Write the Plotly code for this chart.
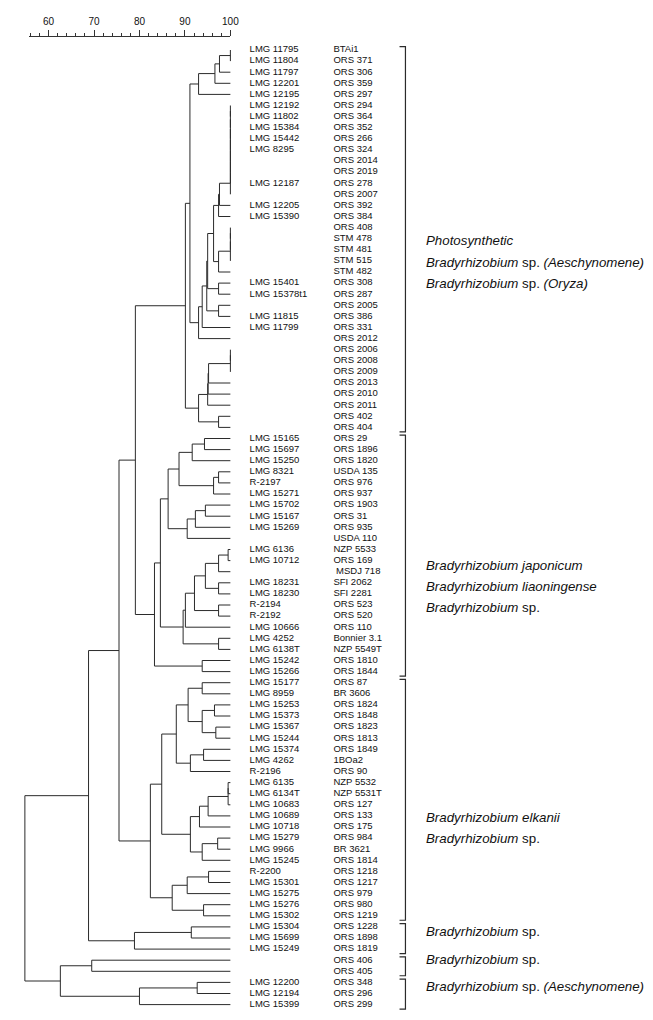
import plotly.graph_objects as go

# ---------------- data ----------------
lmg_ids = [
    "LMG 11795", "LMG 11804", "LMG 11797", "LMG 12201", "LMG 12195", "LMG 12192", "LMG 11802",
    "LMG 15384", "LMG 15442", "LMG 8295", "", "", "LMG 12187", "", "LMG 12205", "LMG 15390",
    "", "", "", "", "", "LMG 15401", "LMG 15378t1", "", "LMG 11815", "LMG 11799",
    "", "", "", "", "", "", "", "", "",
    "LMG 15165", "LMG 15697", "LMG 15250", "LMG 8321", "R-2197", "LMG 15271", "LMG 15702",
    "LMG 15167", "LMG 15269", "", "LMG 6136", "LMG 10712", "", "LMG 18231", "LMG 18230",
    "R-2194", "R-2192", "LMG 10666", "LMG 4252", "LMG 6138T", "LMG 15242", "LMG 15266",
    "LMG 15177", "LMG 8959", "LMG 15253", "LMG 15373", "LMG 15367", "LMG 15244", "LMG 15374",
    "LMG 4262", "R-2196", "LMG 6135", "LMG 6134T", "LMG 10683", "LMG 10689", "LMG 10718",
    "LMG 15279", "LMG 9966", "LMG 15245", "R-2200", "LMG 15301", "LMG 15275", "LMG 15276",
    "LMG 15302", "LMG 15304", "LMG 15699", "LMG 15249", "", "", "LMG 12200", "LMG 12194",
    "LMG 15399",
]
strains = [
    "BTAi1", "ORS 371", "ORS 306", "ORS 359", "ORS 297", "ORS 294", "ORS 364", "ORS 352",
    "ORS 266", "ORS 324", "ORS 2014", "ORS 2019", "ORS 278", "ORS 2007", "ORS 392", "ORS 384",
    "ORS 408", "STM 478", "STM 481", "STM 515", "STM 482", "ORS 308", "ORS 287", "ORS 2005",
    "ORS 386", "ORS 331", "ORS 2012", "ORS 2006", "ORS 2008", "ORS 2009", "ORS 2013",
    "ORS 2010", "ORS 2011", "ORS 402", "ORS 404",
    "ORS 29", "ORS 1896", "ORS 1820", "USDA 135", "ORS 976", "ORS 937", "ORS 1903", "ORS 31",
    "ORS 935", "USDA 110", "NZP 5533", "ORS 169", "\u00a0MSDJ 718", "SFI 2062", "SFI 2281",
    "ORS 523", "ORS 520", "ORS 110", "Bonnier 3.1", "NZP 5549T", "ORS 1810", "ORS 1844",
    "ORS 87", "BR 3606", "ORS 1824", "ORS 1848", "ORS 1823", "ORS 1813", "ORS 1849", "1BOa2",
    "ORS 90", "NZP 5532", "NZP 5531T", "ORS 127", "ORS 133", "ORS 175", "ORS 984", "BR 3621",
    "ORS 1814", "ORS 1218", "ORS 1217", "ORS 979", "ORS 980", "ORS 1219",
    "ORS 1228", "ORS 1898", "ORS 1819", "ORS 406", "ORS 405", "ORS 348", "ORS 296", "ORS 299",
]

# merges: (node, left, right, similarity %); ints are leaf row numbers (1-based)
merges = [
    ("p1", 1, 2, 100.0), ("p2", "p1", 3, 97.6), ("p3", "p2", 4, 96.6), ("p4", "p3", 5, 93.0),
    ("c1", 6, 7, 100.0), ("c2", "c1", 8, 100.0), ("c3", "c2", 9, 100.0), ("c4", "c3", 10, 100.0),
    ("c5", "c4", 11, 100.0), ("c6", "c5", 12, 100.0), ("c7", "c6", 13, 100.0), ("c8", "c7", 14, 100.0),
    ("p5", "c8", 15, 97.6), ("p6", "p5", 16, 97.4),
    ("d1", 17, 18, 100.0), ("d2", "d1", 19, 100.0), ("d3", "d2", 20, 100.0),
    ("p7", "d3", 21, 97.4), ("p8", "p6", "p7", 96.3),
    ("p9", 22, 23, 97.4), ("p10", "p8", "p9", 95.0),
    ("p11", 24, 25, 97.4), ("p12", "p10", "p11", 94.8),
    ("p13", "p12", 26, 93.8), ("p14", "p13", 27, 93.0), ("p15", "p4", "p14", 91.1),
    ("e1", 28, 29, 100.0), ("e2", "e1", 30, 100.0),
    ("p16", "e2", 31, 95.2), ("p17", "p16", 32, 95.1), ("p18", "p17", 33, 95.0),
    ("p19", 34, 35, 97.4), ("p20", "p18", "p19", 93.0), ("P", "p15", "p20", 90.1),
    ("j1", 36, 37, 94.3), ("j2", "j1", 38, 91.6), ("j3", 39, 40, 97.4), ("j4", "j3", 41, 96.3),
    ("j5", "j2", "j4", 88.7), ("j6", 42, 43, 94.5), ("j7", "j6", 44, 92.3), ("j8", "j7", 45, 90.5),
    ("j9", "j5", "j8", 86.3), ("j10", 46, 47, 99.5), ("j11", "j10", 48, 97.4),
    ("j12", 49, 50, 97.4), ("j13", "j11", "j12", 94.5), ("j14", 51, 52, 97.4),
    ("j15", "j13", "j14", 92.1), ("j16", "j15", 53, 90.1), ("j17", 54, 55, 97.4),
    ("j18", "j16", "j17", 89.6), ("j19", "j9", "j18", 84.6), ("j20", 56, 57, 93.8),
    ("J", "j19", "j20", 83.3), ("PJ", "P", "J", 79.1),
    ("k1", 58, 59, 93.8), ("k2", 60, 61, 96.5), ("k3", 62, 63, 96.8), ("k4", "k2", "k3", 93.8),
    ("k5", "k1", "k4", 90.7), ("k6", 64, 65, 94.1), ("k7", "k6", 66, 91.2), ("k8", "k5", "k7", 88.1),
    ("m1", 67, 68, 99.5), ("m2", "m1", 69, 99.5), ("k9", "m2", 70, 95.1), ("k10", "k9", 71, 93.2),
    ("k11", 72, 73, 97.2), ("k12", "k11", 74, 93.8), ("k13", "k10", "k12", 91.2),
    ("k14", "k8", "k13", 84.9), ("k15", 75, 76, 95.2), ("k16", "k15", 77, 90.5),
    ("k17", 78, 79, 94.1), ("k18", "k16", "k17", 87.2), ("E", "k14", "k18", 82.4),
    ("PJE", "PJ", "E", 75.5),
    ("s1", 80, 81, 91.4), ("S", "s1", 82, 78.9), ("A", "PJE", "S", 68.8),
    ("t1", 83, 84, 69.5), ("u1", 85, 86, 92.7), ("U", "u1", 87, 80.0), ("B", "t1", "U", 62.6),
    ("ROOT", "A", "B", 54.8),
]

# groups: (first row, last row, label lines)
groups = [
    (1, 35, ["<i>Photosynthetic</i>", "<i>Bradyrhizobium</i> sp. <i>(Aeschynomene)</i>",
             "<i>Bradyrhizobium</i> sp. <i>(Oryza)</i>"]),
    (36, 57, ["<i>Bradyrhizobium japonicum</i>", "<i>Bradyrhizobium liaoningense</i>",
              "<i>Bradyrhizobium</i> sp."]),
    (58, 79, ["<i>Bradyrhizobium elkanii</i>", "<i>Bradyrhizobium</i> sp."]),
    (80, 82, ["<i>Bradyrhizobium</i> sp."]),
    (83, 84, ["<i>Bradyrhizobium</i> sp."]),
    (85, 87, ["<i>Bradyrhizobium</i> sp. <i>(Aeschynomene)</i>"]),
]
group_label_rows = [20.1, 49.3, 71.1, 80.4, 82.9, 85.4]

scale_ticks = [60, 70, 80, 90, 100]

# ---------------- layout geometry ----------------
W, H = 653, 1020
PXU = 4.61          # pixels per similarity unit
X100 = 225.5        # pixel of 100 %
ROW0, ROWH = 42.0, 11.1


def sx(px):
    return 100 + (px - X100) / PXU


n = len(strains)
pos = {i + 1: (100.0, float(i + 1)) for i in range(n)}
xs, ys = [], []
for name, a, b, sim in merges:
    xa, ya = pos[a]
    xb, yb = pos[b]
    xs += [xa, sim, sim, xb, None]
    ys += [ya, ya, yb, yb, None]
    pos[name] = (sim, (ya + yb) / 2)

fig = go.Figure()
fig.add_trace(go.Scatter(x=xs, y=ys, mode="lines", line=dict(color="#2b2b2b", width=1),
                         hoverinfo="skip", showlegend=False))

# brackets
bx, by = [], []
for first, last, _ in groups:
    y0, y1 = first - 0.3, last + 0.4
    bx += [sx(397), sx(403), sx(403), sx(397), None]
    by += [y0, y0, y1, y1, None]
fig.add_trace(go.Scatter(x=bx, y=by, mode="lines", line=dict(color="#2b2b2b", width=1.2),
                         hoverinfo="skip", showlegend=False))

rows = list(range(1, n + 1))
lab_font = dict(family="Arial, Liberation Sans, sans-serif", size=9.5, color="#111")
fig.add_trace(go.Scatter(x=[sx(245)] * n, y=rows, text=lmg_ids, mode="text",
                         textposition="middle right", textfont=lab_font,
                         hoverinfo="skip", showlegend=False))
fig.add_trace(go.Scatter(x=[sx(330)] * n, y=rows, text=strains, mode="text",
                         textposition="middle right", textfont=lab_font,
                         hoverinfo="skip", showlegend=False))

# group labels
for (first, last, lines), r in zip(groups, group_label_rows):
    k = len(lines)
    for j, t in enumerate(lines):
        fig.add_annotation(x=sx(422), y=r + (j - (k - 1) / 2) * 1.9, text=t, showarrow=False,
                           xanchor="left", yanchor="middle", xref="x", yref="y",
                           font=dict(family="Arial, Liberation Sans, sans-serif", size=13.3,
                                     color="#111"))

# scale bar axis trace
fig.add_trace(go.Scatter(x=[60, 100], y=[0, 0], xaxis="x2", yaxis="y2", mode="markers",
                         marker=dict(opacity=0), hoverinfo="skip", showlegend=False))

ymin = 1 + (H - ROW0) / ROWH
ymax = 1 - ROW0 / ROWH
fig.update_layout(
    width=W, height=H, margin=dict(l=0, r=0, t=0, b=0),
    plot_bgcolor="white", paper_bgcolor="white",
    xaxis=dict(range=[sx(0), sx(W)], domain=[0, 1], visible=False, fixedrange=True),
    yaxis=dict(range=[ymin, ymax], domain=[0, 1], visible=False, fixedrange=True),
    xaxis2=dict(range=[sx(21), 100], domain=[21 / W, X100 / W], anchor="y2", side="top",
                tickvals=scale_ticks, ticks="outside", ticklen=6, tickwidth=1, tickcolor="#333",
                showline=True, linecolor="#333", linewidth=1, showgrid=False, zeroline=False,
                minor=dict(dtick=2, tick0=0, ticks="outside", ticklen=3, tickcolor="#333"),
                tickfont=dict(family="Arial, Liberation Sans, sans-serif", size=10, color="#111"),
                ticklabelstandoff=1),
    yaxis2=dict(domain=[1 - 40 / H, 1 - 29 / H], anchor="x2", visible=False, range=[0, 1]),
)
fig.write_html("out.html")
